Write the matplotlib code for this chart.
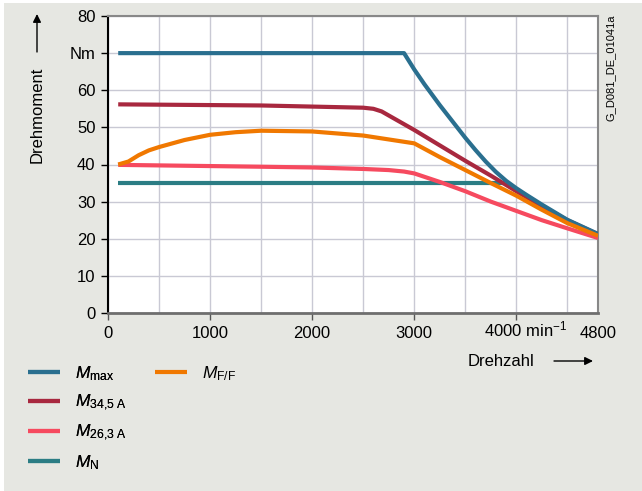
import matplotlib.pyplot as plt
from matplotlib.patches import Rectangle

plt.rcParams['font.family'] = ['Liberation Sans', 'DejaVu Sans']
plt.rcParams['mathtext.fontset'] = 'custom'
plt.rcParams['mathtext.rm'] = 'Liberation Sans'
plt.rcParams['mathtext.it'] = 'Liberation Sans:italic'

# speed (min^-1) and torque (Nm) per curve
n_max = [100, 2900, 3000, 3100, 3250, 3500, 3600, 3700, 3800, 3900, 4000, 4100, 4250, 4500, 4800]
m_max = [70, 70, 65.6, 61.6, 56.0, 47.2, 43.9, 40.8, 38.0, 35.6, 33.6, 31.8, 29.2, 25.1, 21.3]

n_345 = [100, 1500, 2500, 2600, 2680, 3000, 3500, 3750, 4000, 4250, 4500, 4800]
m_345 = [56.2, 55.9, 55.3, 55.0, 54.3, 49.3, 41.0, 37.0, 32.8, 28.8, 25.0, 21.2]

n_263 = [100, 1500, 2000, 2500, 2750, 2900, 3000, 3250, 3500, 3750, 4000, 4250, 4500, 4800]
m_263 = [39.9, 39.4, 39.2, 38.8, 38.5, 38.1, 37.6, 35.3, 32.8, 30.0, 27.5, 25.0, 22.8, 20.2]

n_N = [100, 3890]
m_N = [35, 35]

n_ff = [100, 200, 300, 400, 500, 750, 1000, 1250, 1500, 2000, 2500, 3000, 3250, 3500, 3750, 4000, 4250, 4500, 4800]
m_ff = [40.0, 40.8, 42.5, 43.8, 44.7, 46.6, 48.0, 48.7, 49.1, 48.9, 47.8, 45.7, 42.0, 38.5, 35.0, 31.6, 27.8, 24.2, 20.8]

x_ticks = [0, 1000, 2000, 3000, 4000, 4800]
x_labels = ['0', '1000', '2000', '3000', '', '4800']
y_ticks = [0, 10, 20, 30, 40, 50, 60, 70, 80]
y_labels = ['0', '10', '20', '30', '40', '50', '60', 'Nm', '80']

bg = '#e6e7e2'
fig = plt.figure(figsize=(6.42, 4.91), dpi=100, facecolor='white')
fig.patches.append(Rectangle((4 / 642, 0), 1, 1 - 3 / 491, transform=fig.transFigure,
                             facecolor=bg, edgecolor='none', zorder=-10))
ax = fig.add_axes([108 / 642, 1 - 313 / 491, 490 / 642, 297 / 491])
ax.set_facecolor('white')

lw = 3.0
l_max, = ax.plot(n_max, m_max, color='#2a6f8f', lw=lw, solid_capstyle='butt', zorder=5,
                 label=r'$M_{\mathrm{max}}$')
l_345, = ax.plot(n_345, m_345, color='#a8283f', lw=lw, solid_capstyle='butt', zorder=4,
                 label=r'$M_{\mathrm{34{,}5\ A}}$')
l_263, = ax.plot(n_263, m_263, color='#f64a5f', lw=lw, solid_capstyle='butt', zorder=3,
                 label=r'$M_{\mathrm{26{,}3\ A}}$')
l_N, = ax.plot(n_N, m_N, color='#2b7d84', lw=lw, solid_capstyle='butt', zorder=2,
               label=r'$M_{\mathrm{N}}$')
l_ff, = ax.plot(n_ff, m_ff, color='#f07800', lw=lw, solid_capstyle='butt', zorder=6,
                label=r'$M_{\mathrm{F/F}}$')

ax.set_xlim(0, 4800)
ax.set_ylim(0, 80)
ax.set_xticks(range(0, 4801, 500), minor=True)
ax.set_xticks(x_ticks)
ax.set_xticklabels(x_labels)
ax.set_yticks(y_ticks)
ax.set_yticklabels(y_labels)
ax.grid(True, which='both', color='#c9c9d4', lw=1)
ax.set_axisbelow(True)
ax.tick_params(axis='both', which='major', labelsize=12, length=5, width=1, pad=4)
ax.tick_params(axis='x', which='minor', length=0)
ax.tick_params(axis='x', colors='#555555', labelcolor='black')
ax.xaxis.get_major_ticks()[-1].tick1line.set_visible(False)

for s in ['top', 'right']:
    ax.spines[s].set_color('#888888')
    ax.spines[s].set_linewidth(1.5)
ax.spines['bottom'].set_color('#6e6e6e')
ax.spines['bottom'].set_linewidth(2)
ax.spines['left'].set_color('black')
ax.spines['left'].set_linewidth(1.5)

# 4000 min^-1 label
fig.text(484 / 642, 1 - 329 / 491, r'4000 min$^{\mathrm{-1}}$', fontsize=12, ha='left', va='center')

# axis titles with arrows
fig.text(37 / 642, 1 - 115 / 491, 'Drehmoment', rotation=90, fontsize=12, ha='center', va='center')
ax.annotate('', xy=(37, 477), xytext=(37, 439), xycoords='figure pixels', textcoords='figure pixels',
            arrowprops=dict(arrowstyle='-|>', color='black', lw=1, mutation_scale=12,
                            shrinkA=0, shrinkB=0))
fig.text(501 / 642, 1 - 361 / 491, 'Drehzahl', fontsize=12, ha='center', va='center')
ax.annotate('', xy=(593, 130), xytext=(554, 130), xycoords='figure pixels', textcoords='figure pixels',
            arrowprops=dict(arrowstyle='-|>', color='black', lw=1, mutation_scale=12,
                            shrinkA=0, shrinkB=0))

fig.text(611 / 642, 1 - 68 / 491, 'G_D081_DE_01041a', rotation=90, fontsize=8, ha='center', va='center')

leg1 = fig.legend(handles=[l_max, l_345, l_263, l_N], loc='upper left',
                  bbox_to_anchor=(28 / 642, 1 - 364 / 491), frameon=False, fontsize=12.5,
                  handlelength=1.85, handletextpad=0.85, labelspacing=0.58, borderpad=0,
                  borderaxespad=0)
fig.legend(handles=[l_ff], loc='upper left',
           bbox_to_anchor=(155 / 642, 1 - 364 / 491), frameon=False, fontsize=12.5,
           handlelength=1.85, handletextpad=0.85, borderpad=0, borderaxespad=0)
fig.add_artist(leg1)

fig.savefig('out.png', dpi=100, facecolor=fig.get_facecolor())
